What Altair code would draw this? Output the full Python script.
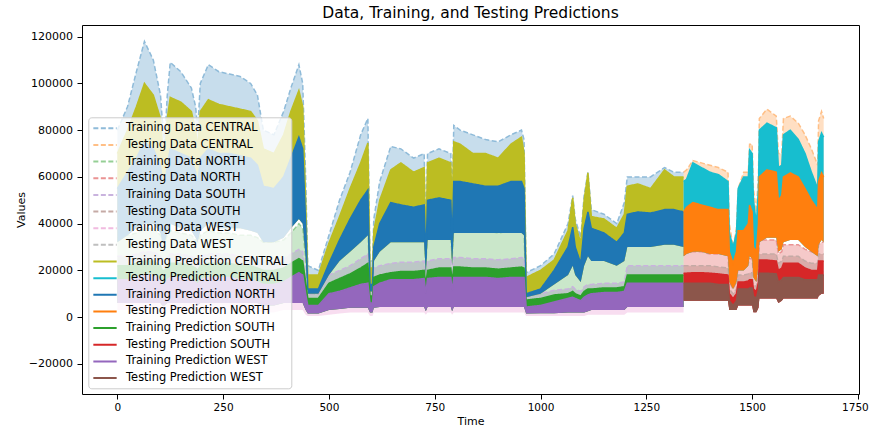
import altair as alt
import pandas as pd

# ---- time grids -------------------------------------------------------
t_train = [0, 24, 45, 64, 85, 102, 106, 112, 118, 125,
           150, 175, 185, 190, 196, 215, 240, 265, 290, 315,
           331, 345, 370, 393, 410, 429, 438, 445, 450, 475,
           500, 525, 550, 575, 592, 597, 603, 606, 620, 646,
           670, 700, 725, 729, 733, 760, 788, 791, 795, 810,
           840, 870, 900, 930, 955, 961, 966, 1000, 1032, 1065,
           1076, 1082, 1095, 1103, 1112, 1120, 1150, 1180, 1198, 1205,
           1230, 1260, 1293, 1315, 1338]
t_test = [1338, 1345, 1360, 1380, 1400, 1420, 1443, 1446, 1455, 1463,
          1467, 1480, 1491, 1494, 1500, 1503, 1510, 1515, 1517, 1535,
          1557, 1562, 1570, 1574, 1590, 1609, 1625, 1640, 1655, 1657,
          1664, 1669]

# ---- training period envelopes (thousands) --------------------------------
train_data_central_hi = [80, 90, 105, 118, 110, 95, 85, 75, 95, 109,
                         105, 98, 90, 80, 100, 108, 105, 104, 103, 100,
                         95, 80, 78, 88, 98, 108, 100, 60, 22, 20,
                         35, 50, 62, 78, 85, 24, 24, 42, 58, 73,
                         72, 68, 70, 35, 70, 72, 70, 48, 82, 80,
                         78, 76, 75, 78, 80, 76, 19, 22, 27, 40,
                         52, 42, 34, 52, 62, 46, 44, 40, 49, 60,
                         60, 60, 64, 62, 62]
train_data_north_hi = [34, 35, 36, 38, 38, 35, 32, 32, 35, 37,
                       36, 35, 33, 32, 35, 37, 36, 36, 35, 35,
                       34, 32, 32, 33, 36, 40, 38, 25, 10, 10,
                       25, 30, 34, 37, 38, 12, 12, 30, 34, 36,
                       36, 35, 36, 22, 36, 37, 36, 25, 38, 38,
                       37, 37, 36, 37, 37, 36, 9, 10, 15, 22,
                       26, 22, 18, 26, 30, 28, 28, 26, 28, 32,
                       32, 32, 33, 33, 32]
train_data_south_hi = [26, 26, 27, 28, 28, 26, 24, 24, 26, 27,
                       27, 26, 25, 24, 26, 27, 27, 27, 26, 26,
                       25, 24, 24, 25, 27, 29, 28, 18, 10, 10,
                       18, 20, 22, 25, 27, 11, 11, 21, 22, 23,
                       23.5, 23.5, 24, 17, 24, 25, 25, 18, 25.5, 25.5,
                       25, 25, 24.5, 25, 25.5, 25, 9, 10, 11.5, 12,
                       13, 12, 11, 13, 14, 14, 14.5, 14.5, 15, 22,
                       22, 22, 22, 22, 22]
train_data_west_hi = [17, 17, 18, 19, 19, 17, 15, 15, 17, 18,
                      18, 17, 16, 15, 17, 18, 18, 18, 17, 17,
                      16, 15, 15, 16, 18, 20, 19, 11, 6, 6,
                      11, 12, 13.5, 15, 15.5, 7, 7, 14, 15.5, 17,
                      17, 17, 17.5, 11, 17.5, 18, 18, 12, 18, 18,
                      18, 18, 17.5, 18, 18, 18, 5.3, 6, 7.5, 9,
                      9.5, 9, 8, 9.5, 10.5, 11, 11.5, 11.5, 12, 15.5,
                      15.5, 15.5, 15.5, 15.5, 15.5]
train_data_west_lo = [3, 3, 3, 3, 3, 3, 2, 2, 3, 3,
                      3, 3, 3, 2, 3, 3, 3, 3, 3, 3,
                      3, 2, 2, 3, 3, 3, 3, 1, 0.5, 0.5,
                      1, 1.5, 2, 2, 2, 0.5, 0.5, 2, 2, 2,
                      2, 2, 2, 1, 2, 2, 2, 1, 2, 2,
                      2, 2, 2, 2, 2, 2, 0.5, 0.5, 0.5, 0.5,
                      0.5, 0.5, 0.5, 0.5, 1, 1, 1, 1, 1, 2,
                      2, 2, 2, 2, 2]
train_pred_central_hi = [70, 80, 90, 100, 95, 85, 75, 70, 85, 94,
                         92, 88, 80, 72, 88, 93, 91, 90, 89, 88,
                         84, 72, 70, 78, 88, 97, 90, 50, 18, 18,
                         31.7, 43, 55, 66, 74.5, 21, 21, 37, 50, 63,
                         66, 62, 64, 31.7, 66, 68, 66, 45, 75, 74,
                         70, 70, 68, 74, 77, 70, 17, 20, 24.4, 37,
                         51, 40, 31.7, 50, 61.7, 43, 42, 38, 44, 56,
                         57, 55, 63, 60, 60]
train_pred_north_hi = [55, 62, 68, 75, 72, 65, 58, 55, 65, 72,
                       70, 68, 62, 56, 68, 72, 70, 70, 69, 68,
                       65, 56, 55, 60, 68, 77, 72, 40, 12, 12,
                       23, 33, 42, 50, 54.4, 14, 14, 30, 40, 49,
                       48, 47, 48, 25, 50, 51, 50, 30, 58, 58,
                       57, 56, 56, 58, 58, 55, 10, 12, 20, 30,
                       38.5, 30, 23, 38, 45, 38, 36, 32, 36, 44,
                       45, 44.5, 46, 46, 45]
train_pred_north_lo = [32, 35, 38, 40, 40, 36, 32, 32, 36, 40,
                       38, 37, 34, 32, 37, 40, 38, 38, 38, 37,
                       36, 32, 32, 34, 38, 42, 40, 25, 10, 10,
                       18, 24, 28, 32, 35, 11, 11, 24, 28, 32,
                       32, 32, 32, 18, 33, 33, 33, 22, 36, 36,
                       36, 36, 36, 36, 36, 35, 8.5, 10, 14, 18,
                       22, 18, 15, 22, 26, 24, 24, 22, 24, 30,
                       30, 30, 31, 31, 30]
train_pred_south_hi = [22, 22, 23, 24, 24, 22, 20, 20, 22, 23,
                       23, 22, 21, 20, 22, 23, 23, 23, 22, 22,
                       21, 20, 20, 21, 23, 25, 24, 15, 8, 8,
                       14.5, 16.5, 18.5, 21, 23, 9, 9, 17, 18, 19,
                       19.5, 19.5, 20, 14, 20, 21, 21, 15, 21.4, 21.4,
                       21, 21, 20.5, 21, 21.4, 21, 7.3, 8, 9.5, 10,
                       11, 10, 9, 11, 12, 12, 12.5, 12.5, 13, 18,
                       18, 18, 18, 18, 18]
train_pred_west_hi = [16, 16, 17, 18, 18, 16, 14, 14, 16, 17,
                      17, 16, 15, 14, 16, 17, 17, 17, 16, 16,
                      15, 14, 14, 15, 17, 19, 18, 10, 5, 5,
                      10, 11, 12.5, 14, 14.5, 6, 6, 13, 14.5, 16,
                      16, 16, 16.5, 10, 16.5, 17, 17, 11, 17, 17,
                      17, 17, 16.5, 17, 17, 17, 4.3, 5, 6.5, 8,
                      8.5, 8, 7, 8.5, 9.5, 10, 10.5, 10.5, 11, 14.5,
                      14.5, 14.5, 14.5, 14.5, 14.5]
train_pred_west_lo = [6, 6, 6, 6, 6, 6, 5, 5, 6, 6,
                      6, 6, 6, 5, 6, 6, 6, 6, 6, 6,
                      6, 5, 5, 6, 6, 6, 6, 3, 1.5, 1.5,
                      3, 3.5, 4, 4, 4, 2, 2, 4, 4.3, 4.3,
                      4.3, 4.3, 4.3, 2.5, 4.3, 4.3, 4.3, 2.5, 4.3, 4.3,
                      4.3, 4.3, 4.3, 4.3, 4.3, 4.3, 1.5, 1.7, 1.7, 2,
                      2, 2, 2, 2, 2.5, 3, 3, 3, 3, 4.3,
                      4.3, 4.3, 4.3, 4.3, 4.3]

# ---- testing period envelopes (thousands) ---------------------------------
test_data_central_hi = [62, 63, 67, 66, 65, 64, 62, 40, 30, 38,
                        55, 62, 62, 74, 74, 55, 45, 62, 85, 89,
                        86, 70, 70, 85, 86, 83, 78, 72, 65, 84,
                        88, 85]
test_data_north_hi = [28, 28, 28, 28, 27, 27, 27, 15, 12, 15,
                      22, 22, 23, 25, 25, 18, 16, 22, 33, 33,
                      33, 27, 28, 31, 31, 31, 29, 28, 27, 31,
                      32, 32]
test_data_south_hi = [22, 22, 22, 22, 22, 21.5, 21, 12, 10, 12,
                      18, 18, 18.5, 19, 19, 14, 13, 18, 27, 27,
                      27, 23, 24, 26, 26, 26, 24, 23, 23, 27,
                      27, 27]
test_data_west_hi = [16, 16, 16, 16, 16, 15.5, 15.5, 8, 6, 8,
                     13, 13, 13, 14, 14, 10, 9, 13, 20, 20,
                     20, 16, 17, 18.5, 18.5, 18.5, 17.5, 17.5, 17.5, 19.5,
                     19.5, 19.5]
test_pred_central_hi = [58, 59, 66, 64, 62, 61, 58, 36, 30, 36,
                        55, 60, 60, 71.5, 70, 50, 40, 55, 80, 83,
                        81, 64, 65, 78, 80, 76, 70, 62, 55, 75,
                        78.8, 77]
test_pred_north_hi = [45, 47, 49, 48, 47, 46, 46, 28, 23, 28,
                      37, 37, 40, 48, 45, 30, 28, 40, 60, 63,
                      62, 50, 52, 60, 61.7, 60, 55, 50, 46, 58,
                      61.7, 60]
test_pred_north_lo = [26, 27, 28, 28, 27, 27, 26, 15, 12, 15,
                      20, 20, 22, 26, 25, 17, 15, 22, 32, 34,
                      34, 28, 29, 32, 33, 33, 30, 28, 26, 31,
                      33, 32]
test_pred_south_hi = [18.8, 18.8, 19, 19, 18.8, 18.5, 18, 10, 8, 10,
                      15, 15, 15.5, 16, 16, 12, 11, 15, 24.4, 24.4,
                      24, 20, 21, 23, 23, 23, 21, 20, 20, 24,
                      24, 24]
test_pred_west_hi = [14.5, 14.5, 14.5, 14.5, 14.5, 14, 14, 7, 5, 7,
                     12, 12, 12, 12.5, 12.5, 9, 8, 12, 18.8, 18.8,
                     18.5, 15, 16, 17, 17, 17, 16, 16, 16, 18,
                     18, 18]
test_pred_west_lo = [7, 7, 7, 7, 7, 7, 7, 3, 3, 3,
                     5, 5, 5, 5, 5, 2.1, 2.1, 4, 8, 8,
                     8, 6, 7, 8, 8, 8, 8, 8, 8, 9,
                     10, 10]

series_names = ["Training Data CENTRAL", "Testing Data CENTRAL",
                "Training Data NORTH", "Testing Data NORTH",
                "Training Data SOUTH", "Testing Data SOUTH",
                "Training Data WEST", "Testing Data WEST",
                "Training Prediction CENTRAL", "Testing Prediction CENTRAL",
                "Training Prediction NORTH", "Testing Prediction NORTH",
                "Training Prediction SOUTH", "Testing Prediction SOUTH",
                "Training Prediction WEST", "Testing Prediction WEST"]
series_colors = ["#1f77b4", "#ff7f0e", "#2ca02c", "#d62728", "#9467bd",
                 "#8c564b", "#e377c2", "#7f7f7f", "#bcbd22", "#17becf",
                 "#1f77b4", "#ff7f0e", "#2ca02c", "#d62728", "#9467bd",
                 "#8c564b"]
# line colours: data lines drawn at half strength (as alpha 0.5 over white)
line_colors = ["#8fbbd9", "#ffbf86", "#95cf95", "#ea9393", "#c9b3de",
               "#c5aaa5", "#f1bbe0", "#bfbfbf", "#bcbd22", "#17becf",
               "#1f77b4", "#ff7f0e", "#2ca02c", "#d62728", "#9467bd",
               "#8c564b"]

series_parts = [
    (t_train, train_pred_north_lo, train_data_central_hi),
    (t_test, test_pred_north_lo, test_data_central_hi),
    (t_train, train_pred_west_lo, train_data_north_hi),
    (t_test, test_pred_west_lo, test_data_north_hi),
    (t_train, train_pred_west_lo, train_data_south_hi),
    (t_test, test_pred_west_lo, test_data_south_hi),
    (t_train, train_data_west_lo, train_data_west_hi),
    (t_test, test_pred_west_lo, test_data_west_hi),
    (t_train, train_pred_north_lo, train_pred_central_hi),
    (t_test, test_pred_north_lo, test_pred_central_hi),
    (t_train, train_pred_north_lo, train_pred_north_hi),
    (t_test, test_pred_north_lo, test_pred_north_hi),
    (t_train, train_pred_west_lo, train_pred_south_hi),
    (t_test, test_pred_west_lo, test_pred_south_hi),
    (t_train, train_pred_west_lo, train_pred_west_hi),
    (t_test, test_pred_west_lo, test_pred_west_hi),
]

is_data = [n.split()[1] == "Data" for n in series_names]

x_scale = alt.Scale(domain=[-83.5, 1752.5], nice=False, zero=False)
y_scale = alt.Scale(domain=[-32900, 125000], nice=False, zero=False)
x_axis = alt.Axis(title="Time", values=[0, 250, 500, 750, 1000, 1250, 1500, 1750],
                  format="d", labelPadding=3, titlePadding=3,
                  labelOffset={"condition": {"test": "datum.value == 1750", "value": -3},
                               "value": 0})
y_axis = alt.Axis(title="Values", values=list(range(-20000, 120001, 20000)),
                  format="d", labelPadding=4.5, titlePadding=2,
                  labelFontSize=11)

# fill scale listed in reverse so it is kept apart from the (shown) stroke legend
fill_scale = alt.Scale(domain=series_names[::-1], range=series_colors[::-1])
stroke_scale = alt.Scale(domain=series_names, range=line_colors)
dash_scale = alt.Scale(domain=series_names,
                       range=[[5, 2.5] if d else [1, 0] for d in is_data])

legend = alt.Legend(title=None, orient="none", legendX=6.3, legendY=92.3,
                    direction="vertical",
                    symbolType="M-2,0H2", symbolSize=136, symbolStrokeWidth=2,
                    symbolOffset=5.7, labelOffset=14.1,
                    labelFont="DejaVu Sans", labelFontSize=11.4,
                    labelColor="black", labelLimit=400,
                    rowPadding=3.65, padding=4,
                    fillColor="rgba(255,255,255,0.8)", strokeColor="#cccccc",
                    cornerRadius=3)

layers = []
for name, d, (tt, lo, hi) in zip(series_names, is_data, series_parts):
    df = pd.DataFrame({
        "series": name,
        "t": tt,
        "lo": [v * 1000 for v in lo],
        "hi": [v * 1000 for v in hi],
    })
    area = alt.Chart(df).mark_area(opacity=0.25 if d else 1.0).encode(
        x=alt.X("t:Q", scale=x_scale, axis=x_axis),
        y=alt.Y("lo:Q", scale=y_scale, axis=y_axis),
        y2="hi:Q",
        fill=alt.Fill("series:N", scale=fill_scale, legend=None),
    )
    line = alt.Chart(df).mark_line(strokeWidth=1.5).encode(
        x=alt.X("t:Q", scale=x_scale, axis=x_axis),
        y=alt.Y("hi:Q", scale=y_scale, axis=y_axis),
        stroke=alt.Stroke("series:N", scale=stroke_scale, legend=legend),
        strokeDash=alt.StrokeDash("series:N", scale=dash_scale, legend=legend),
    )
    layers += [area, line]

chart = alt.layer(*layers).properties(
    width=777, height=369,
    title=alt.TitleParams("Data, Training, and Testing Predictions",
                          font="DejaVu Sans", fontSize=15.5, fontWeight="normal",
                          color="black", anchor="middle", offset=4),
    padding={"left": 82, "top": 25, "right": 10, "bottom": 36},
    autosize=alt.AutoSizeParams(type="none"),
).configure_view(
    stroke="black", strokeWidth=1
).configure_axis(
    grid=False, domain=False, tickColor="black", tickSize=5, tickWidth=1,
    labelFont="DejaVu Sans", labelFontSize=10.5, labelColor="black",
    titleFont="DejaVu Sans", titleFontSize=11, titleFontWeight="normal",
    titleColor="black",
)

chart.save("out.html", embed_options={"renderer": "svg", "actions": False})
